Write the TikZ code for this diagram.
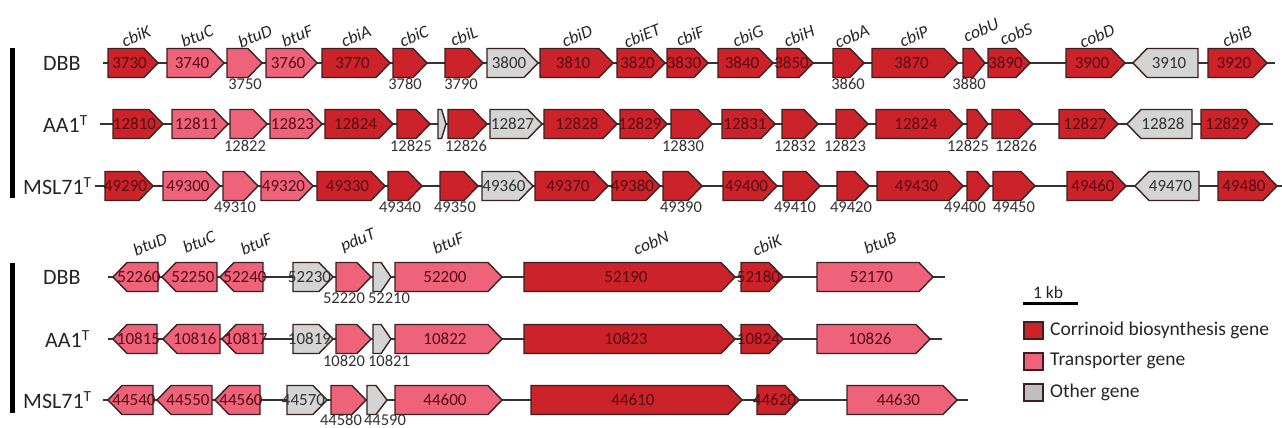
\documentclass[tikz,border=0pt]{standalone}
\usepackage{fontspec}
\setmainfont{Carlito}
\definecolor{cred}{RGB}{204,34,41}
\definecolor{cpink}{RGB}{238,98,122}
\definecolor{cgray}{RGB}{212,212,212}
\definecolor{cedge}{RGB}{58,32,32}
\definecolor{ctxt}{RGB}{85,12,20}
\definecolor{cgtxt}{RGB}{50,50,50}
\newcommand\fgene[6]{%
  \pgfmathsetmacro\hl{min(14,0.55*(#3-#2))}%
  \draw[#5] (#2,#4-14.5) -- ({#3-\hl},#4-14.5) -- (#3,#4) -- ({#3-\hl},#4+14.5) -- (#2,#4+14.5) -- cycle;
  \node[#5txt] (#1) at ({(#2+#3-\hl/2)/2},#4) {#6};
}
\newcommand\rgene[6]{%
  \pgfmathsetmacro\hl{min(14,0.55*(#3-#2))}%
  \draw[#5] (#3,#4-14.5) -- ({#2+\hl},#4-14.5) -- (#2,#4) -- ({#2+\hl},#4+14.5) -- (#3,#4+14.5) -- cycle;
  \node[#5txt] (#1) at ({(#3+#2+\hl/2)/2},#4) {#6};
}
\newcommand\glab[4]{\node[belowtxt] (#1) at (#2,#3) {#4};}
\newcommand\gname[4]{\node[nametxt] (#1) at (#2,#3) {#4};}
\tikzset{
  redfill/.style={fill=cred,draw=cedge,line width=1.4pt,line join=miter},
  pinkfill/.style={fill=cpink,draw=cedge,line width=1.4pt,line join=miter},
  grayfill/.style={fill=cgray,draw=cedge,line width=1.4pt,line join=miter},
  redfilltxt/.style={inner sep=0pt,font=\fontsize{17}{19}\selectfont,text=ctxt},
  pinkfilltxt/.style={inner sep=0pt,font=\fontsize{17}{19}\selectfont,text=ctxt},
  grayfilltxt/.style={inner sep=0pt,font=\fontsize{17}{19}\selectfont,text=cgtxt},
  belowtxt/.style={inner sep=0pt,font=\fontsize{16.5}{18}\selectfont,text=cgtxt},
  nametxt/.style={inner sep=0pt,rotate=22,font=\fontsize{17.5}{19}\selectfont\itshape,text=black!85},
  rowtxt/.style={inner sep=0pt,anchor=west,font=\fontsize{22}{24}\selectfont,text=black!85},
  backbone/.style={draw=black!80,line width=1.4pt},
  legtxt/.style={inner sep=0pt,anchor=west,font=\fontsize{19.5}{22}\selectfont,text=black!85},
}
\begin{document}
\begin{tikzpicture}[x=1pt,y=-1pt]
\useasboundingbox[fill=white] (0,0) rectangle (1282,428);
% vertical bars
\coordinate (b1s) at (12.5,48); \coordinate (b1e) at (12.5,198);
\coordinate (b2s) at (12.5,263); \coordinate (b2e) at (12.5,413);
\draw[line width=4.5pt] (b1s) -- (b1e);
\draw[line width=4.5pt] (b2s) -- (b2e);
% row labels
\node[rowtxt] (lA) at (43,63) {DBB};
\node[rowtxt] (lB) at (43,124) {AA1\textsuperscript{T}};
\node[rowtxt] (lC) at (23,186) {MSL71\textsuperscript{T}};
\node[rowtxt] (lD) at (43,277) {DBB};
\node[rowtxt] (lE) at (45,339) {AA1\textsuperscript{T}};
\node[rowtxt] (lF) at (23,400) {MSL71\textsuperscript{T}};
% backbones
\coordinate (As) at (103,63); \coordinate (Ae) at (1275,63);
\coordinate (Bs) at (100,124); \coordinate (Be) at (1273,124);
\coordinate (Cs) at (95,186); \coordinate (Ce) at (1282,186);
\coordinate (Ds) at (108,277); \coordinate (De) at (945,277);
\coordinate (Es) at (108,339); \coordinate (Ee) at (942,339);
\coordinate (Fs) at (103,400); \coordinate (Fe) at (968,400);
\foreach \r in {A,B,C,D,E,F}{\draw[backbone] (\r s) -- (\r e);}
% ---- top DBB ----
\fgene{a1}{108}{158}{63}{redfill}{3730}
\fgene{a2}{167}{224}{63}{pinkfill}{3740}
\fgene{a3}{227}{262}{63}{pinkfill}{}
\fgene{a4}{266}{317}{63}{pinkfill}{3760}
\fgene{a5}{322}{390}{63}{redfill}{3770}
\fgene{a6}{393}{427}{63}{redfill}{}
\fgene{a7}{445}{483}{63}{redfill}{}
\fgene{a8}{487}{538}{63}{grayfill}{3800}
\fgene{a9}{540}{613}{63}{redfill}{3810}
\fgene{a10}{617}{665}{63}{redfill}{3820}
\fgene{a11}{667}{708}{63}{redfill}{3830}
\fgene{a12}{718}{773}{63}{redfill}{3840}
\fgene{a13}{777}{813}{63}{redfill}{3850}
\fgene{a14}{833}{864}{63}{redfill}{}
\fgene{a15}{872}{958}{63}{redfill}{3870}
\fgene{a16}{963}{985}{63}{redfill}{}
\fgene{a17}{988}{1030}{63}{redfill}{3890}
\fgene{a18}{1066}{1125}{63}{redfill}{3900}
\rgene{a19}{1133}{1198}{63}{grayfill}{3910}
\fgene{a20}{1208}{1267}{63}{redfill}{3920}
\glab{la3}{245}{84}{3750}
\glab{la6}{405}{84}{3780}
\glab{la7}{461}{84}{3790}
\glab{la14}{848}{84}{3860}
\glab{la16}{969}{84}{3880}
% ---- top AA1 ----
\fgene{b1}{113}{163}{124}{redfill}{12810}
\fgene{b2}{172}{228}{124}{pinkfill}{12811}
\fgene{b3}{230}{267}{124}{pinkfill}{}
\fgene{b4}{270}{322}{124}{pinkfill}{12823}
\fgene{b5}{325}{393}{124}{redfill}{12824}
\fgene{b6}{397}{430}{124}{redfill}{}
\fgene{b7}{438}{446}{124}{grayfill}{}
\fgene{b8}{448}{487}{124}{redfill}{}
\fgene{b9}{490}{542}{124}{grayfill}{12827}
\fgene{b10}{544}{617}{124}{redfill}{12828}
\fgene{b11}{620}{667}{124}{redfill}{12829}
\fgene{b12}{671}{712}{124}{redfill}{}
\fgene{b13}{722}{775}{124}{redfill}{12831}
\fgene{b14}{782}{818}{124}{redfill}{}
\fgene{b15}{836}{868}{124}{redfill}{}
\fgene{b16}{876}{963}{124}{redfill}{12824}
\fgene{b17}{967}{988}{124}{redfill}{}
\fgene{b18}{992}{1033}{124}{redfill}{}
\fgene{b19}{1059}{1118}{124}{redfill}{12827}
\rgene{b20}{1127}{1192}{124}{grayfill}{12828}
\fgene{b21}{1201}{1260}{124}{redfill}{12829}
\glab{lb3}{245}{146}{12822}
\glab{lb6}{411}{146}{12825}
\glab{lb8}{466}{146}{12826}
\glab{lb12}{683}{146}{12830}
\glab{lb14}{795}{146}{12832}
\glab{lb15}{845}{146}{12823}
\glab{lb17}{968}{146}{12825}
\glab{lb18}{1016}{146}{12826}
% ---- top MSL71 ----
\fgene{c1}{105}{153}{186}{redfill}{49290}
\fgene{c2}{163}{220}{186}{pinkfill}{49300}
\fgene{c3}{223}{258}{186}{pinkfill}{}
\fgene{c4}{261}{313}{186}{pinkfill}{49320}
\fgene{c5}{317}{385}{186}{redfill}{49330}
\fgene{c6}{388}{422}{186}{redfill}{}
\fgene{c7}{440}{478}{186}{redfill}{}
\fgene{c8}{482}{533}{186}{grayfill}{49360}
\fgene{c9}{535}{608}{186}{redfill}{49370}
\fgene{c10}{612}{660}{186}{redfill}{49380}
\fgene{c11}{663}{702}{186}{redfill}{}
\fgene{c12}{723}{777}{186}{redfill}{49400}
\fgene{c13}{783}{820}{186}{redfill}{}
\fgene{c14}{837}{869}{186}{redfill}{}
\fgene{c15}{877}{963}{186}{redfill}{49430}
\fgene{c16}{967}{990}{186}{redfill}{}
\fgene{c17}{993}{1035}{186}{redfill}{}
\fgene{c18}{1067}{1126}{186}{redfill}{49460}
\rgene{c19}{1135}{1199}{186}{grayfill}{49470}
\fgene{c20}{1218}{1277}{186}{redfill}{49480}
\glab{lc3}{235}{207}{49310}
\glab{lc6}{400}{207}{49340}
\glab{lc7}{455}{207}{49350}
\glab{lc11}{681}{207}{49390}
\glab{lc13}{795}{207}{49410}
\glab{lc14}{851}{207}{49420}
\glab{lc16}{965}{207}{49400}
\glab{lc17}{1014}{207}{49450}
% top gene names
\gname{na1}{136}{36}{cbiK}
\gname{na2}{197}{36}{btuC}
\gname{na3}{255}{36}{btuD}
\gname{na4}{297}{36}{btuF}
\gname{na5}{356}{36}{cbiA}
\gname{na6}{414}{36}{cbiC}
\gname{na7}{464}{36}{cbiL}
\gname{na9}{577}{36}{cbiD}
\gname{na10}{642}{36}{cbiET}
\gname{na11}{690}{36}{cbiF}
\gname{na12}{748}{36}{cbiG}
\gname{na13}{799}{36}{cbiH}
\gname{na14}{852}{36}{cobA}
\gname{na15}{914}{36}{cbiP}
\gname{na16}{981}{30}{cobU}
\gname{na17}{1016}{34}{cobS}
\gname{na18}{1097}{36}{cobD}
\gname{na20}{1237}{36}{cbiB}
% ---- bottom DBB ----
\rgene{d1}{113}{158}{277}{pinkfill}{52260}
\rgene{d2}{162}{217}{277}{pinkfill}{52250}
\rgene{d3}{220}{263}{277}{pinkfill}{52240}
\fgene{d4}{293}{333}{277}{grayfill}{52230}
\fgene{d5}{336}{371}{277}{pinkfill}{}
\fgene{d6}{373}{391}{277}{grayfill}{}
\fgene{d7}{395}{502}{277}{pinkfill}{52200}
\fgene{d8}{524}{735}{277}{redfill}{52190}
\fgene{d9}{741}{783}{277}{redfill}{52180}
\fgene{d10}{817}{933}{277}{pinkfill}{52170}
\glab{ld5}{344}{298}{52220}
\glab{ld6}{389}{298}{52210}
% ---- bottom AA1 ----
\rgene{e1}{113}{157}{339}{pinkfill}{10815}
\rgene{e2}{163}{220}{339}{pinkfill}{10816}
\rgene{e3}{222}{263}{339}{pinkfill}{10817}
\fgene{e4}{293}{333}{339}{grayfill}{10819}
\fgene{e5}{336}{371}{339}{pinkfill}{}
\fgene{e6}{373}{391}{339}{grayfill}{}
\fgene{e7}{395}{502}{339}{pinkfill}{10822}
\fgene{e8}{524}{735}{339}{redfill}{10823}
\fgene{e9}{741}{783}{339}{redfill}{10824}
\fgene{e10}{817}{930}{339}{pinkfill}{10826}
\glab{le5}{344}{361}{10820}
\glab{le6}{389}{361}{10821}
% ---- bottom MSL71 ----
\rgene{f1}{108}{153}{400}{pinkfill}{44540}
\rgene{f2}{157}{212}{400}{pinkfill}{44550}
\rgene{f3}{215}{260}{400}{pinkfill}{44560}
\fgene{f4}{287}{327}{400}{grayfill}{44570}
\fgene{f5}{331}{366}{400}{pinkfill}{}
\fgene{f6}{367}{387}{400}{grayfill}{}
\fgene{f7}{395}{502}{400}{pinkfill}{44600}
\fgene{f8}{531}{742}{400}{redfill}{44610}
\fgene{f9}{757}{799}{400}{redfill}{44620}
\fgene{f10}{847}{957}{400}{pinkfill}{44630}
\glab{lf5}{341}{420}{44580}
\glab{lf6}{385}{420}{44590}
% bottom gene names
\gname{nd1}{150}{244}{btuD}
\gname{nd2}{199}{242}{btuC}
\gname{nd3}{256}{244}{btuF}
\gname{nd5}{358}{241}{pduT}
\gname{nd7}{448}{243}{btuF}
\gname{nd8}{651}{243}{cobN}
\gname{nd9}{767}{245}{cbiK}
\gname{nd10}{880}{243}{btuB}
% ---- legend ----
\coordinate (sb1) at (1023,303); \coordinate (sb2) at (1078,303);
\draw[line width=3pt] (sb1) -- (sb2);
\node[inner sep=0pt,font=\fontsize{17.5}{19}\selectfont,text=black!85] (kb) at (1048,292) {1 kb};
\draw[redfill,line width=1.2pt] (1024,322) rectangle (1043,339);
\node[legtxt] (t1) at (1050,330) {Corrinoid biosynthesis gene};
\draw[pinkfill,line width=1.2pt] (1024,353) rectangle (1043,370);
\node[legtxt] (t2) at (1050,361) {Transporter gene};
\draw[grayfill,line width=1.2pt,fill=black!25] (1024,384) rectangle (1043,401);
\node[legtxt] (t3) at (1050,392) {Other gene};
\end{tikzpicture}
\end{document}
